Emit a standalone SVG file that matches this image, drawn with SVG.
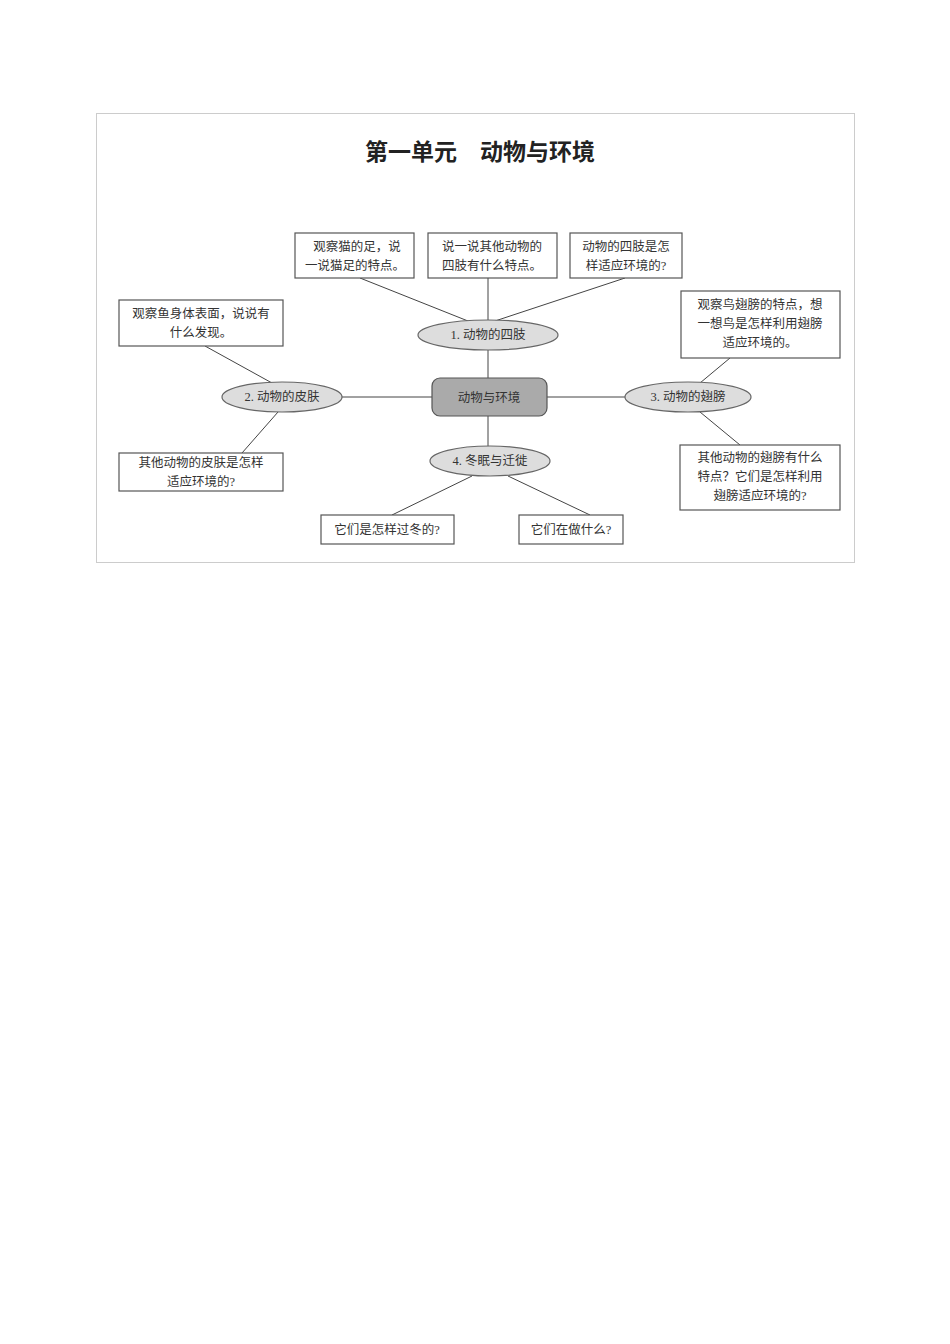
<svg xmlns="http://www.w3.org/2000/svg" width="950" height="1344" viewBox="0 0 950 1344">
<style>
text{font-family:"Liberation Serif","Noto Sans CJK SC",serif;font-size:12.5px;fill:#333;text-anchor:middle}
.box{fill:#fff;stroke:#555;stroke-width:1.2}
.ell{fill:#ddd;stroke:#666;stroke-width:1.2}
.ln{stroke:#444;stroke-width:1;fill:none}
</style>
<rect width="950" height="1344" fill="#fff"/>
<rect x="96.5" y="113.5" width="758" height="449" fill="#fff" stroke="#ccc"/>
<text x="480" y="160" style="font-size:23px;font-weight:bold;fill:#222">第一单元　动物与环境</text>
<g id="connectors" class="ln">
<line x1="360" y1="278" x2="468" y2="321"/>
<line x1="488" y1="278" x2="488" y2="320"/>
<line x1="625" y1="278" x2="495" y2="321"/>
<line x1="488" y1="350" x2="488" y2="378"/>
<line x1="205" y1="346" x2="272" y2="383"/>
<line x1="342" y1="397" x2="432" y2="397"/>
<line x1="547" y1="397" x2="625" y2="397"/>
<line x1="730" y1="358" x2="700" y2="383"/>
<line x1="700" y1="412" x2="740" y2="445"/>
<line x1="278" y1="412" x2="242" y2="453"/>
<line x1="488" y1="416" x2="488" y2="446"/>
<line x1="472" y1="476" x2="392" y2="515"/>
<line x1="508" y1="476" x2="590" y2="515"/>
</g>
<g id="center"><rect x="432" y="378" width="115" height="38" rx="8" fill="#aaa" stroke="#555" stroke-width="1.2"/><text x="489" y="402">动物与环境</text></g>
<g id="e1"><ellipse class="ell" cx="488" cy="335" rx="70" ry="15"/><text x="488" y="339">1. 动物的四肢</text></g>
<g id="e2"><ellipse class="ell" cx="282" cy="397" rx="60" ry="15"/><text x="282" y="401">2. 动物的皮肤</text></g>
<g id="e3"><ellipse class="ell" cx="688" cy="397" rx="63" ry="15"/><text x="688" y="401">3. 动物的翅膀</text></g>
<g id="e4"><ellipse class="ell" cx="490" cy="461" rx="60" ry="15"/><text x="490" y="465">4. 冬眠与迁徙</text></g>
<g id="b1"><rect class="box" x="295" y="233" width="119" height="45"/><text x="357" y="251">观察猫的足，说</text><text x="355" y="270">一说猫足的特点。</text></g>
<g id="b2"><rect class="box" x="428" y="233" width="129" height="45"/><text x="492" y="251">说一说其他动物的</text><text x="492" y="270">四肢有什么特点。</text></g>
<g id="b3"><rect class="box" x="570" y="233" width="112" height="45"/><text x="626" y="251">动物的四肢是怎</text><text x="626" y="270">样适应环境的?</text></g>
<g id="b4"><rect class="box" x="119" y="300" width="164" height="46"/><text x="201" y="318">观察鱼身体表面，说说有</text><text x="201" y="337">什么发现。</text></g>
<g id="b5"><rect class="box" x="681" y="291" width="159" height="67"/><text x="760" y="309">观察鸟翅膀的特点，想</text><text x="760" y="328">一想鸟是怎样利用翅膀</text><text x="760" y="347">适应环境的。</text></g>
<g id="b6"><rect class="box" x="119" y="453" width="164" height="38"/><text x="201" y="467">其他动物的皮肤是怎样</text><text x="201" y="486">适应环境的?</text></g>
<g id="b7"><rect class="box" x="680" y="445" width="160" height="65"/><text x="760" y="462">其他动物的翅膀有什么</text><text x="760" y="481">特点？它们是怎样利用</text><text x="760" y="500">翅膀适应环境的?</text></g>
<g id="b8"><rect class="box" x="321" y="515" width="133" height="29"/><text x="387" y="534">它们是怎样过冬的?</text></g>
<g id="b9"><rect class="box" x="519" y="515" width="104" height="29"/><text x="571" y="534">它们在做什么?</text></g>
</svg>
